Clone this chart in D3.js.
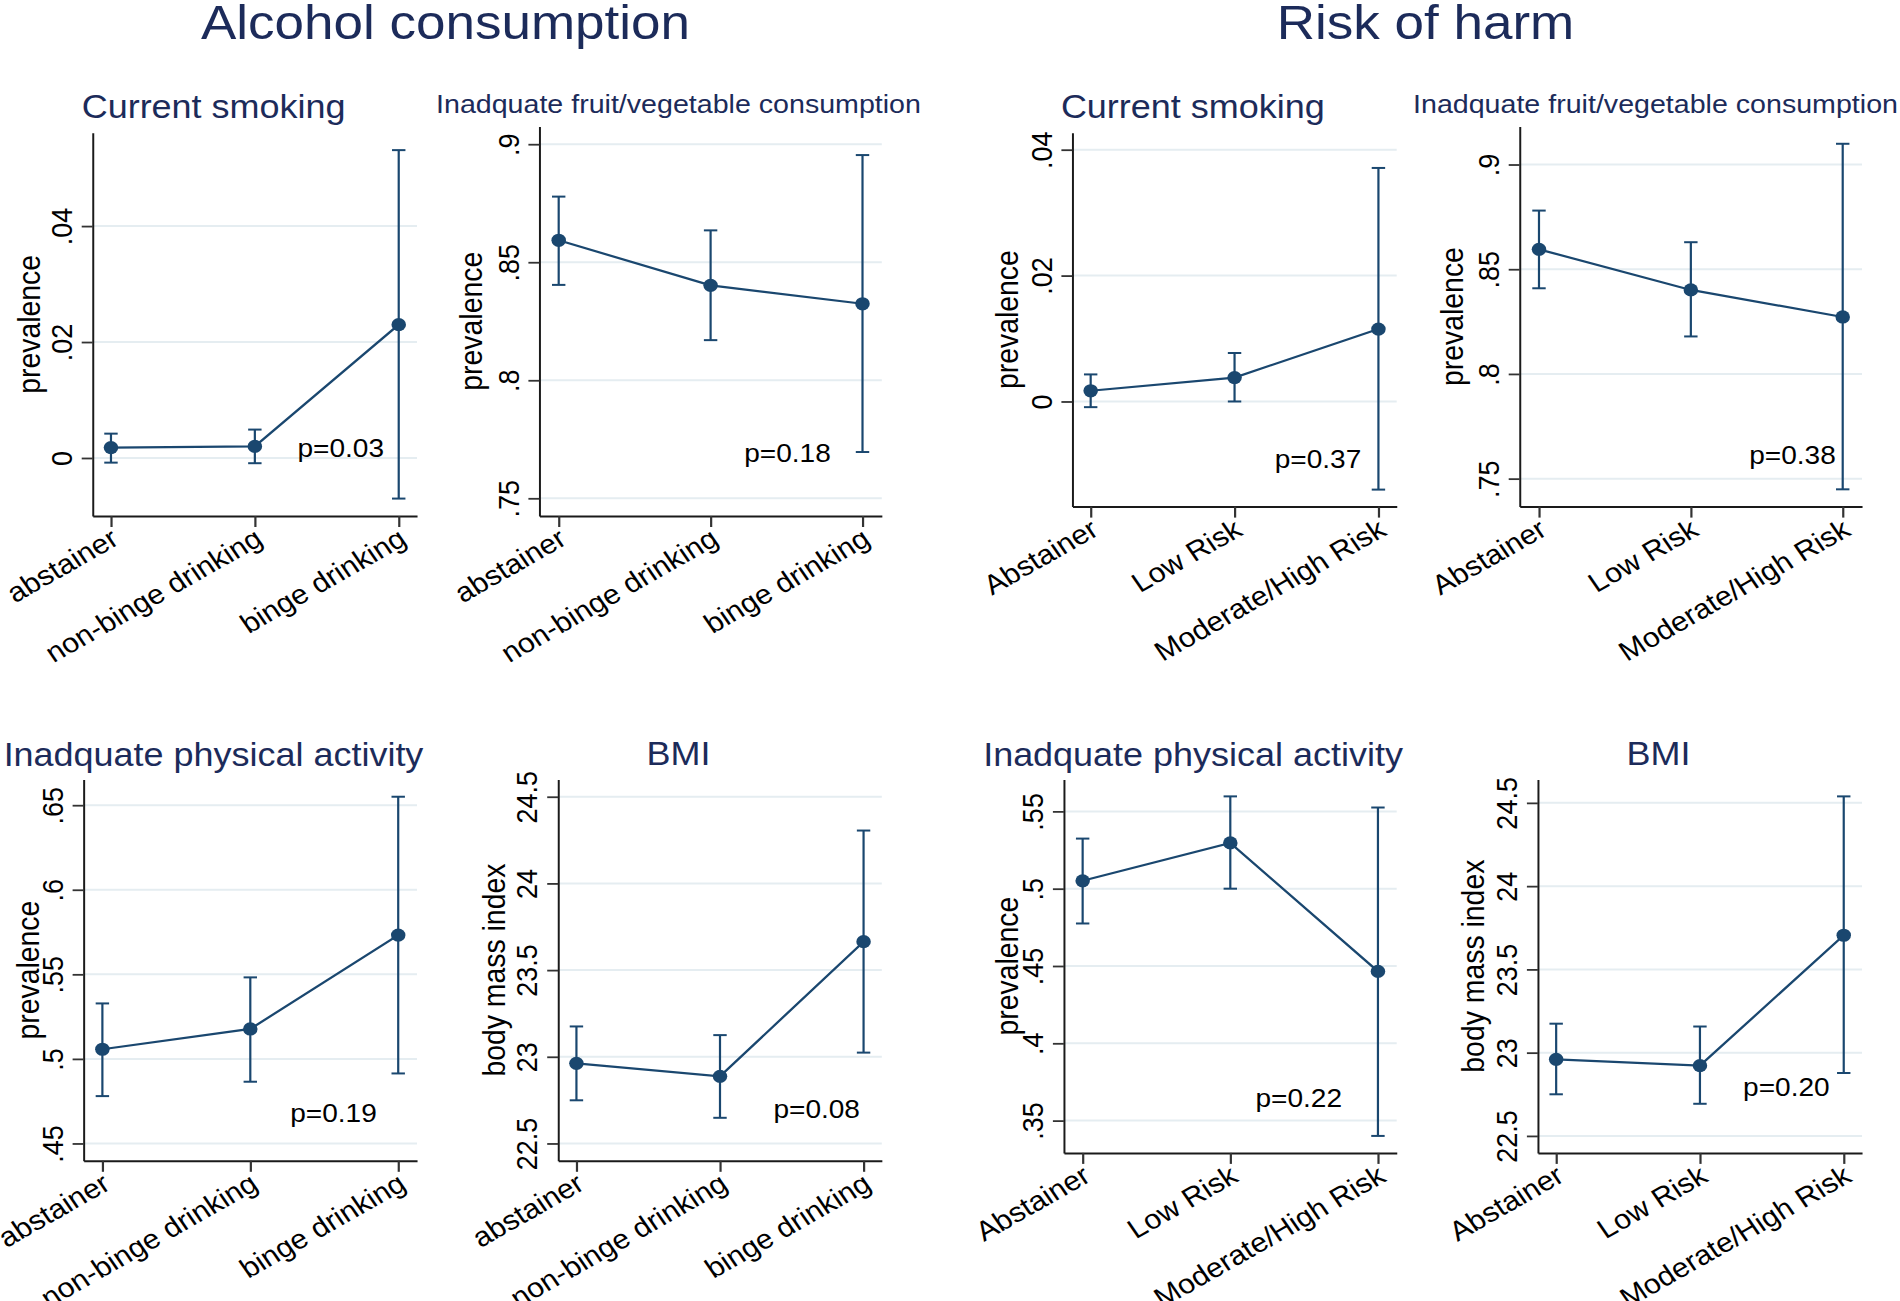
<!DOCTYPE html>
<html>
<head>
<meta charset="utf-8">
<script src="https://cdn.jsdelivr.net/npm/d3@7/dist/d3.min.js"></script>
<style>
  html, body { margin: 0; padding: 0; background: #ffffff; }
  svg { display: block; }
</style>
</head>
<body>
<svg id="chart" width="1900" height="1301"></svg>
<script>
// ---------------- DATA ----------------
const alcoholCats = ["abstainer", "non-binge drinking", "binge drinking"];
const riskCats = ["Abstainer", "Low Risk", "Moderate/High Risk"];

const groupTitles = ["Alcohol consumption", "Risk of harm"];
const panelTitles = ["Current smoking", "Inadquate fruit/vegetable consumption",
                     "Inadquate physical activity", "BMI"];
const yTitles = ["prevalence", "body mass index"];

// y tick values and labels
const smokeTicks = [0, 0.02, 0.04];
const smokeTickLabels = ["0", ".02", ".04"];
const fruitTicks = [0.75, 0.8, 0.85, 0.9];
const fruitTickLabels = [".75", ".8", ".85", ".9"];
const physAlcTicks = [0.45, 0.5, 0.55, 0.6, 0.65];
const physAlcTickLabels = [".45", ".5", ".55", ".6", ".65"];
const physRiskTicks = [0.35, 0.4, 0.45, 0.5, 0.55];
const physRiskTickLabels = [".35", ".4", ".45", ".5", ".55"];
const bmiTicks = [22.5, 23, 23.5, 24, 24.5];
const bmiTickLabels = ["22.5", "23", "23.5", "24", "24.5"];

// Alcohol consumption: estimates and 95% CI
const alcSmokeEst = [0.0018, 0.0020, 0.0230];
const alcSmokeLo  = [-0.0008, -0.0009, -0.0070];
const alcSmokeHi  = [0.0042, 0.0049, 0.0531];

const alcFruitEst = [0.8593, 0.8402, 0.8324];
const alcFruitLo  = [0.8404, 0.8170, 0.7696];
const alcFruitHi  = [0.8778, 0.8635, 0.8954];

const alcPhysEst = [0.5057, 0.5177, 0.5732];
const alcPhysLo  = [0.4780, 0.4865, 0.4914];
const alcPhysHi  = [0.5328, 0.5482, 0.6550];

const alcBmiEst = [22.962, 22.887, 23.664];
const alcBmiLo  = [22.749, 22.648, 23.024];
const alcBmiHi  = [23.175, 23.125, 24.305];

// Risk of harm: estimates and 95% CI
const riskSmokeEst = [0.0017, 0.0038, 0.0115];
const riskSmokeLo  = [-0.0009, 0.0000, -0.0140];
const riskSmokeHi  = [0.0043, 0.0077, 0.0371];

const riskFruitEst = [0.8595, 0.8401, 0.8272];
const riskFruitLo  = [0.8409, 0.8179, 0.7449];
const riskFruitHi  = [0.8780, 0.8629, 0.9099];

const riskPhysEst = [0.5051, 0.5296, 0.4465];
const riskPhysLo  = [0.4775, 0.5000, 0.3401];
const riskPhysHi  = [0.5324, 0.5597, 0.5525];

const riskBmiEst = [22.960, 22.922, 23.705];
const riskBmiLo  = [22.750, 22.693, 22.878];
const riskBmiHi  = [23.174, 23.157, 24.539];

const pLabels = ["p=0.03", "p=0.18", "p=0.37", "p=0.38", "p=0.19", "p=0.08", "p=0.22", "p=0.20"];

// ---------------- PANELS (built from the arrays) ----------------
const panels = [
  {title: panelTitles[0], yt: yTitles[0], cats: alcoholCats, est: alcSmokeEst, lo: alcSmokeLo, hi: alcSmokeHi, ticks: smokeTicks, tl: smokeTickLabels, p: pLabels[0]},
  {title: panelTitles[1], yt: yTitles[0], cats: alcoholCats, est: alcFruitEst, lo: alcFruitLo, hi: alcFruitHi, ticks: fruitTicks, tl: fruitTickLabels, p: pLabels[1]},
  {title: panelTitles[0], yt: yTitles[0], cats: riskCats, est: riskSmokeEst, lo: riskSmokeLo, hi: riskSmokeHi, ticks: smokeTicks, tl: smokeTickLabels, p: pLabels[2]},
  {title: panelTitles[1], yt: yTitles[0], cats: riskCats, est: riskFruitEst, lo: riskFruitLo, hi: riskFruitHi, ticks: fruitTicks, tl: fruitTickLabels, p: pLabels[3]},
  {title: panelTitles[2], yt: yTitles[0], cats: alcoholCats, est: alcPhysEst, lo: alcPhysLo, hi: alcPhysHi, ticks: physAlcTicks, tl: physAlcTickLabels, p: pLabels[4]},
  {title: panelTitles[3], yt: yTitles[1], cats: alcoholCats, est: alcBmiEst, lo: alcBmiLo, hi: alcBmiHi, ticks: bmiTicks, tl: bmiTickLabels, p: pLabels[5]},
  {title: panelTitles[2], yt: yTitles[0], cats: riskCats, est: riskPhysEst, lo: riskPhysLo, hi: riskPhysHi, ticks: physRiskTicks, tl: physRiskTickLabels, p: pLabels[6]},
  {title: panelTitles[3], yt: yTitles[1], cats: riskCats, est: riskBmiEst, lo: riskBmiLo, hi: riskBmiHi, ticks: bmiTicks, tl: bmiTickLabels, p: pLabels[7]}
];

// ---------------- LAYOUT (pixel positions, page coordinates) ----------------
const layout = [
  {left: 92.7,   right: 417,   top: 132.7, bottom: 516,    tx: 213.6,  ty: 118,   ts: 32.7, yOff: 53, px: 340.8,  py: 457.3},
  {left: 539.4,  right: 881.8, top: 126.5, bottom: 516,    tx: 678.5,  ty: 113,   ts: 26.0, yOff: 57, px: 787.5,  py: 462},
  {left: 1072.4, right: 1396.7,top: 132.7, bottom: 506.6,  tx: 1192.8, ty: 118.5, ts: 32.7, yOff: 54, px: 1318,   py: 468.5},
  {left: 1519.7, right: 1862,  top: 126.5, bottom: 506.6,  tx: 1655.5, ty: 113,   ts: 26.0, yOff: 57, px: 1792.5, py: 464.3},
  {left: 83.6,   right: 417,   top: 779.4, bottom: 1160.8, tx: 213.5,  ty: 766,   ts: 32.7, yOff: 45, px: 333.5,  py: 1121.8},
  {left: 558.2,  right: 881.8, top: 779.4, bottom: 1160.8, tx: 678.5,  ty: 765,   ts: 32.7, yOff: 53, px: 816.7,  py: 1118.5},
  {left: 1063.9, right: 1396.7,top: 779.4, bottom: 1152.9, tx: 1193,   ty: 766,   ts: 32.7, yOff: 46, px: 1298.8, py: 1107.3},
  {left: 1537.9, right: 1862,  top: 779.4, bottom: 1152.9, tx: 1658.5, ty: 765,   ts: 32.7, yOff: 54, px: 1786.4, py: 1096.5}
];
const groupTitleLayout = [{x: 445.5, y: 38.5}, {x: 1425.5, y: 38.5}];

// ---------------- STYLE ----------------
const SX = 1.1;               // horizontal stretch of the whole figure
const FONT = "'Liberation Sans', Arial, Helvetica, sans-serif";
const NAVY = "#1a476f";
const TITLE = "#1c2b5a";
const GRID = "#e5edf1";
const AXIS = "#1a1a1a";
const XPAD = 0.127;
const fx = v => v / SX;

const svg = d3.select("#chart");
svg.append("rect").attr("width", 1900).attr("height", 1301).attr("fill", "#ffffff");
const root = svg.append("g").attr("transform", `scale(${SX},1)`);

groupTitles.forEach((t, i) => {
  root.append("text")
    .attr("x", fx(groupTitleLayout[i].x)).attr("y", groupTitleLayout[i].y)
    .attr("text-anchor", "middle")
    .attr("font-family", FONT).attr("font-size", 48.2)
    .attr("fill", TITLE).text(t);
});

panels.forEach((p, i) => {
  const L = layout[i];
  const g = root.append("g");

  const ext = d3.extent([...p.lo, ...p.hi, ...p.ticks]);
  const pad = (ext[1] - ext[0]) * 0.05;
  const y = d3.scaleLinear().domain([ext[0] - pad, ext[1] + pad]).range([L.bottom, L.top]);
  const x = d3.scaleLinear().domain([1 - XPAD, 3 + XPAD]).range([fx(L.left), fx(L.right)]);

  // gridlines
  g.append("g").selectAll("line").data(p.ticks).join("line")
    .attr("x1", fx(L.left)).attr("x2", fx(L.right))
    .attr("y1", d => y(d)).attr("y2", d => y(d))
    .attr("stroke", GRID).attr("stroke-width", 2);

  // y axis
  const ya = g.append("g")
    .attr("transform", `translate(${fx(L.left)},0)`)
    .call(d3.axisLeft(y).tickValues(p.ticks).tickFormat((d, k) => p.tl[k])
      .tickSize(10).tickSizeOuter(0));
  ya.attr("font-size", null).attr("font-family", null);
  ya.select(".domain").attr("stroke", AXIS).attr("stroke-width", 1.8);
  ya.selectAll(".tick line").attr("stroke", "#333").attr("stroke-width", 1.8);
  ya.selectAll(".tick text")
    .attr("x", null).attr("dy", null)
    .attr("transform", `translate(${-19},0) rotate(-90)`)
    .attr("text-anchor", "middle")
    .attr("font-family", FONT).attr("font-size", 27).attr("fill", "#000");

  // x axis
  const xa = g.append("g")
    .attr("transform", `translate(0,${L.bottom})`)
    .call(d3.axisBottom(x).tickValues([1, 2, 3]).tickFormat((d, k) => p.cats[k])
      .tickSize(11).tickSizeOuter(0));
  xa.attr("font-size", null).attr("font-family", null);
  xa.select(".domain").attr("stroke", AXIS).attr("stroke-width", 2);
  xa.selectAll(".tick line").attr("stroke", "#333").attr("stroke-width", 2);
  xa.selectAll(".tick text")
    .attr("y", null).attr("dy", null)
    .attr("transform", `translate(${9 / SX},27.5) rotate(-32)`)
    .attr("text-anchor", "end")
    .attr("font-family", FONT).attr("font-size", 27.5).attr("fill", "#000");

  // y axis title
  g.append("text")
    .attr("transform", `translate(${fx(L.left - L.yOff)},${(L.top + L.bottom) / 2}) rotate(-90)`)
    .attr("text-anchor", "middle")
    .attr("font-family", FONT).attr("font-size", 28.4).attr("fill", "#000")
    .text(p.yt);

  // panel title
  g.append("text")
    .attr("x", fx(L.tx)).attr("y", L.ty)
    .attr("text-anchor", "middle")
    .attr("font-family", FONT).attr("font-size", L.ts).attr("fill", TITLE)
    .text(p.title);

  const idx = d3.range(p.est.length);
  const CAP = 6.1;
  // CI bars
  const ci = g.append("g").attr("stroke", NAVY).attr("stroke-width", 2);
  ci.selectAll(".v").data(idx).join("line")
    .attr("x1", k => x(k + 1)).attr("x2", k => x(k + 1))
    .attr("y1", k => y(p.lo[k])).attr("y2", k => y(p.hi[k]));
  ci.selectAll(".t").data(idx).join("line")
    .attr("x1", k => x(k + 1) - CAP).attr("x2", k => x(k + 1) + CAP)
    .attr("y1", k => y(p.hi[k])).attr("y2", k => y(p.hi[k]));
  ci.selectAll(".b").data(idx).join("line")
    .attr("x1", k => x(k + 1) - CAP).attr("x2", k => x(k + 1) + CAP)
    .attr("y1", k => y(p.lo[k])).attr("y2", k => y(p.lo[k]));

  // connecting line
  g.append("path")
    .attr("d", d3.line().x(k => x(k + 1)).y(k => y(p.est[k]))(idx))
    .attr("fill", "none").attr("stroke", NAVY).attr("stroke-width", 2.2);

  // markers
  g.append("g").selectAll("circle").data(idx).join("circle")
    .attr("cx", k => x(k + 1)).attr("cy", k => y(p.est[k]))
    .attr("r", 6.6).attr("fill", NAVY);

  // p-value label
  g.append("text")
    .attr("x", fx(L.px)).attr("y", L.py)
    .attr("text-anchor", "middle")
    .attr("font-family", FONT).attr("font-size", 25.5).attr("fill", "#000")
    .text(p.p);
});
</script>
</body>
</html>
